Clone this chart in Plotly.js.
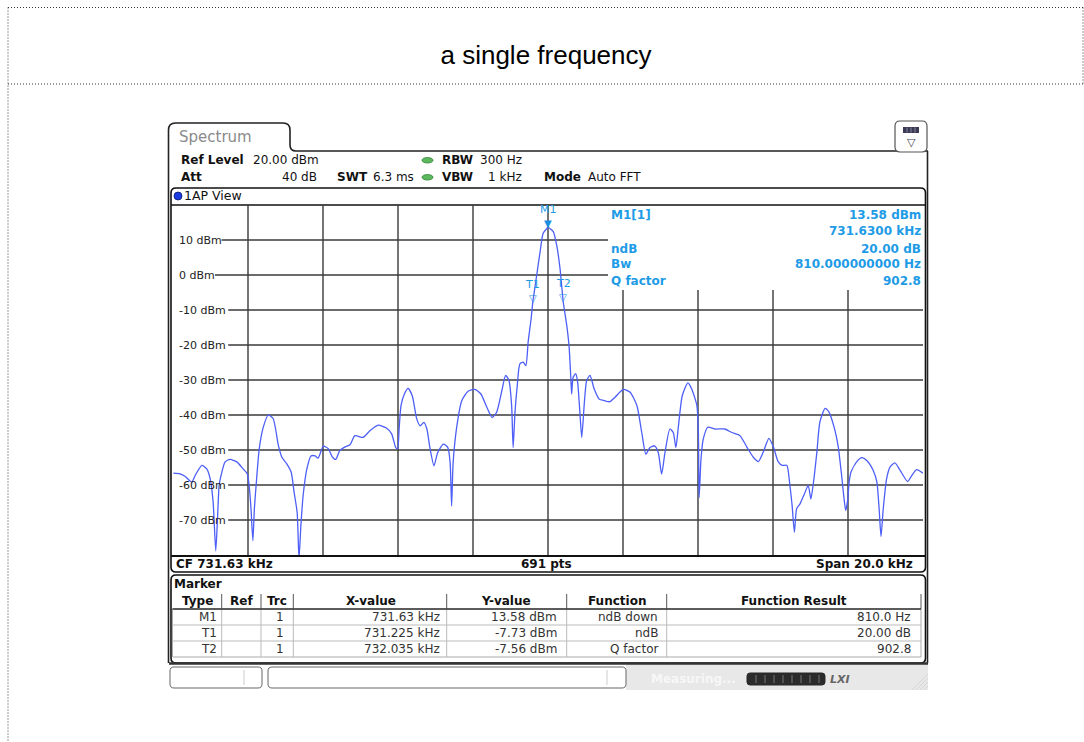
<!DOCTYPE html>
<html><head><meta charset="utf-8">
<script src="https://cdn.plot.ly/plotly-3.0.1.min.js"></script>
<style>html,body{margin:0;padding:0;background:#fff;}#chart{width:1084px;height:742px;}</style>
</head><body><div id="chart"></div>
<script>
// ---------------- data ----------------
const freqKHz = [721.64,721.82,721.95,722.13,722.22,722.40,722.53,722.62,722.70,722.77,722.82,722.86,722.91,723.02,723.15,723.33,723.50,723.61,723.66,723.71,723.76,723.80,723.86,723.93,724.04,724.17,724.30,724.44,724.53,724.66,724.78,724.86,724.94,724.99,725.04,725.10,725.20,725.31,725.42,725.50,725.64,725.77,725.88,725.97,726.08,726.22,726.35,
726.48,726.70,726.88,727.10,727.33,727.46,727.57,727.62,727.66,727.71,727.80,727.90,728.01,728.13,728.22,728.32,728.40,728.48,728.59,728.69,728.84,728.96,729.02,729.06,729.10,729.20,729.33,729.50,729.68,729.84,730.00,730.14,730.26,730.40,730.50,730.59,730.66,730.70,730.75,730.81,730.88,730.97,731.04,731.10,731.18,731.225,731.33,731.42,731.50,731.60,731.63,
731.77,731.86,731.95,732.035,732.13,732.19,732.24,732.26,732.30,732.37,732.42,732.48,732.53,732.60,732.66,732.75,732.86,732.99,733.13,733.28,733.42,733.64,733.82,734.00,734.13,734.24,734.35,734.47,734.57,734.66,734.75,734.88,734.97,735.04,735.10,735.21,735.36,735.46,735.60,735.64,735.66,735.71,735.77,735.89,736.08,736.35,736.53,736.75,
736.93,737.10,737.24,737.37,737.52,737.64,737.77,737.88,738.00,738.08,738.14,738.20,738.26,738.35,738.47,738.57,738.64,738.71,738.80,738.88,739.02,739.12,739.27,739.37,739.46,739.53,739.57,739.62,739.66,739.71,739.86,740.00,740.13,740.30,740.40,740.46,740.51,740.57,740.66,740.75,740.88,741.02,741.22,741.33,741.46,741.63];
const levelDBm = [-56.6,-56.8,-57.5,-59.2,-57.3,-54.4,-55.4,-58.2,-64.9,-78.8,-68.8,-60.1,-57.3,-53.4,-52.7,-53.4,-55.4,-56.8,-60.1,-66.8,-75.9,-66.8,-58.2,-49.6,-43.4,-40.0,-41.0,-48.7,-52.0,-53.9,-56.3,-62.1,-67.8,-81.0,-71.6,-63.0,-55.4,-51.7,-51.7,-52.3,-48.9,-49.6,-52.0,-52.7,-50.1,-49.1,-48.5,
-45.9,-46.4,-44.5,-42.9,-43.8,-45.4,-49.3,-49.6,-44.0,-37.3,-34.0,-32.4,-34.5,-41.1,-43.1,-42.1,-44.0,-49.3,-54.5,-50.7,-48.3,-49.3,-53.6,-66.0,-53.6,-43.1,-35.9,-33.2,-32.7,-34.0,-37.8,-40.7,-39.2,-33.0,-28.7,-30.2,-37.3,-49.3,-39.2,-31.6,-25.4,-24.9,-25.9,-19.2,-12.5,-7.73,0.0,6.7,11.9,13.3,13.58,
12.4,8.6,1.9,-7.56,-14.4,-20.1,-29.7,-34.0,-29.2,-28.2,-30.6,-39.2,-46.4,-36.4,-30.2,-28.7,-32.5,-35.4,-35.9,-36.2,-34.9,-32.7,-33.5,-37.3,-45.0,-51.2,-49.3,-48.8,-50.7,-56.9,-50.7,-44.0,-45.0,-49.3,-44.0,-34.5,-30.8,-32.5,-37.3,-45.0,-63.6,-52.6,-46.9,-43.5,-44.0,-44.0,-45.0,-45.9,
-49.1,-52.0,-53.3,-50.6,-46.7,-49.1,-53.4,-54.4,-54.4,-60.1,-65.9,-73.5,-66.8,-65.4,-62.5,-60.1,-64.0,-59.2,-50.6,-42.0,-38.1,-39.1,-43.9,-49.1,-57.3,-64.4,-67.3,-64.4,-59.2,-56.3,-53.4,-52.2,-53.0,-55.8,-59.2,-66.8,-74.7,-66.8,-58.2,-54.9,-53.7,-55.8,-59.0,-57.3,-55.6,-56.6];

const centerFreq = 731.63;
const spanKHz = 20;
const refLevel = 20;
const bottomLevel = -80;
const numPoints = 691;
const yTickVals = [10,0,-10,-20,-30,-40,-50,-60,-70];
const yTickText = ['10 dBm','0 dBm','-10 dBm','-20 dBm','-30 dBm','-40 dBm','-50 dBm','-60 dBm','-70 dBm'];

const markerType = ['M1','T1','T2'];
const markerRef = ['','',''];
const markerTrc = [1,1,1];
const markerX = [731.63,731.225,732.035];
const markerY = [13.58,-7.73,-7.56];
const markerFunc = ['ndB down','ndB','Q factor'];
const markerResult = ['810.0 Hz','20.00 dB','902.8'];

const infoLabels = ['M1[1]','','ndB','Bw','Q factor'];
const infoValues = ['13.58 dBm','731.6300 kHz','20.00 dB','810.000000000 Hz','902.8'];

// ---------------- helpers ----------------
const FONT = 'DejaVu Sans, Verdana, sans-serif';
const INFO = '#1e9be6';
const GRID = '#3a3a3a';
const PL=173, PR=923, PT=205, PB=555;
const X = p => (p-PL)/(PR-PL);
const Y = p => (PB-p)/(PB-PT);
const shapes=[], ann=[];
function ln(x0,y0,x1,y1,color,width,dash){shapes.push({type:'line',xref:'paper',yref:'paper',x0:X(x0),y0:Y(y0),x1:X(x1),y1:Y(y1),line:{color:color,width:width||1,dash:dash||'solid'},layer:'below'});}
function path(cmds,fill,color,width){let d='';cmds.forEach(c=>{d+=c[0];for(let i=1;i<c.length;i+=2){d+=' '+X(c[i]).toFixed(5)+','+Y(c[i+1]).toFixed(5)+' ';}});
 shapes.push({type:'path',xref:'paper',yref:'paper',path:d,fillcolor:fill||'rgba(0,0,0,0)',line:{color:color||'#000',width:width==null?1:width},layer:'below'});}
function rrect(x0,y0,x1,y1,r,fill,color,width){path([['M',x0+r,y0],['L',x1-r,y0],['Q',x1,y0,x1,y0+r],['L',x1,y1-r],['Q',x1,y1,x1-r,y1],['L',x0+r,y1],['Q',x0,y1,x0,y1-r],['L',x0,y0+r],['Q',x0,y0,x0+r,y0],['Z']],fill,color,width);}
function box(x0,y0,x1,y1,fill,color,width,type){shapes.push({type:type||'rect',xref:'paper',yref:'paper',x0:X(x0),y0:Y(y0),x1:X(x1),y1:Y(y1),fillcolor:fill,line:{color:color||fill,width:width==null?0:width},layer:'below'});}
function tx(px,py,text,o){o=o||{};ann.push({xref:'paper',yref:'paper',x:X(px),y:Y(py),text:text,showarrow:false,xanchor:o.a||'left',yanchor:'middle',borderpad:0,font:{family:o.f||FONT,size:o.s||12,color:o.c||'#111'}});}

// outer dotted frame
const DOT='1px,2px';
ln(8,7.5,1083,7.5,'#333',1,DOT);
ln(1083,7.5,1083,84,'#333',1,DOT);
ln(8,84,1083,84,'#333',1,DOT);
ln(8,7.5,8,742,'#333',1,DOT);

// spectrum tab + frame
path([['M',168.5,663],['L',168.5,130],['Q',168.5,123,175.5,123],['L',283,123],['Q',290,123,290,130],['L',290,145],['Q',290,151,296,151],['L',928,151]],null,'#222',1.6);
ln(927.5,151,927.5,663,'#222',1.6);
rrect(895,121,927,152,5,'#fff','#555',1.2);
box(903,127,919,133,'#3a3a55');
for(let k=907;k<919;k+=4) ln(k,127.5,k,132.5,'#9a9ab0',0.8);
tx(911,142,'▽',{a:'center',s:11,c:'#445'});
tx(178,137,'Spectrum',{s:15,c:'#8a8a8a'});

// header
tx(180,160,'<b>Ref Level</b>'); tx(252,160,refLevel.toFixed(2)+' dBm');
box(422,157.5,433,163,'#5cb85c','#2e7d32',0.8,'circle');
tx(441,160,'<b>RBW</b>'); tx(523,160,'300 Hz',{a:'right'});
tx(180,177,'<b>Att</b>'); tx(318,177,'40 dB',{a:'right'}); tx(336,177,'<b>SWT</b>'); tx(372,177,'6.3 ms');
box(422,174.5,433,180,'#5cb85c','#2e7d32',0.8,'circle');
tx(441,177,'<b>VBW</b>'); tx(523,177,'1 kHz',{a:'right'}); tx(543,177,'<b>Mode</b>'); tx(587,177,'Auto FFT');

// view box
rrect(171,188,925.5,572,5,null,'#111',1.6);
box(174,192,182,200,'#1a3be0','#0a1a70',0.8,'circle');
tx(183,196,'1AP View',{s:12.5});
ln(171,205,925.5,205,'#111',1.6);
ln(171,556,925.5,556,'#111',2);

// grid
for(let i=1;i<=9;i++){const px=PL+75*i; ln(px,(i>=6)?290:PT,px,PB,GRID,1.4);}
yTickVals.forEach((v,i)=>{
  const x0=178+6.6*yTickText[i].length+4;
  shapes.push({type:'line',xref:'paper',yref:'y',x0:X(x0),x1:X(v>=0?608:PR),y0:v,y1:v,line:{color:GRID,width:1.4},layer:'below'});
  ann.push({xref:'paper',yref:'y',x:X(178),y:v,text:yTickText[i],showarrow:false,xanchor:'left',yanchor:'middle',borderpad:0,font:{family:FONT,size:11,color:'#222'}});
});

// bottom row of diagram
tx(175,564,'<b>CF '+centerFreq.toFixed(2)+' kHz</b>');
tx(546,564,'<b>'+numPoints+' pts</b>',{a:'center'});
tx(914,564,'<b>Span '+spanKHz.toFixed(1)+' kHz</b>',{a:'right'});

// marker info
const infoY=[215,231,249,264,281];
infoLabels.forEach((l,i)=>{ if(l) tx(610,infoY[i],'<b>'+l+'</b>',{c:INFO}); tx(922,infoY[i],'<b>'+infoValues[i]+'</b>',{a:'right',c:INFO}); });

// marker symbols on trace
markerType.forEach((m,i)=>{
  ann.push({xref:'x',yref:'y',x:markerX[i],y:markerY[i],text:i===0?'▼':'▽',showarrow:false,xanchor:'center',yanchor:'bottom',yshift:-3,borderpad:0,font:{family:FONT,size:10,color:'#1a8fe0'}});
  ann.push({xref:'x',yref:'y',x:markerX[i],y:markerY[i],text:m,showarrow:false,xanchor:'center',yanchor:'bottom',yshift:10.5,borderpad:0,font:{family:FONT,size:11,color:INFO}});
});

// marker table
rrect(171,575,925.5,663,5,null,'#111',1.6);
tx(173,584,'<b>Marker</b>');
const colSep=[221.7,261,293.3,446.7,566.7,666.7];
const hdr=['Type','Ref','Trc','X-value','Y-value','Function','Function Result'];
const hdrC=[197,241,277,371,506,617,794];
hdr.forEach((h,i)=>tx(hdrC[i],601,'<b>'+h+'</b>',{a:'center'}));
colSep.concat([921]).forEach(x=>ln(x,594,x,609,'#555',1));
box(172.5,609,921,657,'rgba(0,0,0,0)','#aaa',1);
[625,641].forEach(y=>ln(172.5,y,921,y,'#bbb',1));
colSep.forEach(x=>ln(x,609,x,657,'#bbb',1));
ln(172.5,609,921,609,'#333',1.3);
const rowY=[617,633,649];
const rightX=[218,257,285,441,558,659,912];
markerType.forEach((m,i)=>{
  const cells=[m,markerRef[i],String(markerTrc[i]),markerX[i]+' kHz',markerY[i].toFixed(2)+' dBm',markerFunc[i],markerResult[i]];
  cells.forEach((c,j)=>{ if(c) tx(rightX[j],rowY[i],c,{a:'right',c:'#333'}); });
});

// status bar
box(626,664,928,690,'#e8e8e8');
for(let k=0;k<5;k++) ln(912+k*4,690,928,674+k*4,'#cfcfcf',0.8);
ln(169,663.5,928,663.5,'#333',2.5);
rrect(170,667,262,688,4,'#fff','#666',1); ln(244,670,244,685,'#ccc',1);
rrect(268,667,626,688,4,'#fff','#666',1); ln(607,670,607,685,'#ccc',1);
tx(650,679,'<b>Measuring...</b>',{c:'#f7f7f7'});
rrect(747,673,825,685,3,'#2b2b2b','#2b2b2b',1);
for(let k=756;k<820;k+=9) ln(k,675,k,683,'#777',1);
tx(829,679,'<b><i>LXI</i></b>',{c:'#666',s:11});

// ---------------- plot ----------------
const trace={type:'scatter',mode:'lines',x:freqKHz,y:levelDBm,line:{color:'#4d5ff7',width:1.3,shape:'spline',smoothing:0.6},hoverinfo:'skip'};
const layout={
  width:1084,height:742,
  margin:{l:PL,r:1084-PR,t:PT,b:742-PB,pad:0},
  paper_bgcolor:'#fff',plot_bgcolor:'rgba(0,0,0,0)',
  showlegend:false,
  title:{text:'a single frequency',font:{family:'Liberation Sans, Arial, sans-serif',size:26,color:'#000'},x:546/1084,xref:'container',xanchor:'center',y:1-55/742,yref:'container',yanchor:'middle'},
  xaxis:{range:[centerFreq-spanKHz/2,centerFreq+spanKHz/2],showgrid:false,zeroline:false,showline:false,showticklabels:false,ticks:'',fixedrange:true},
  yaxis:{range:[bottomLevel,refLevel],showgrid:false,zeroline:false,showline:false,showticklabels:false,ticks:'',fixedrange:true},
  shapes:shapes,annotations:ann
};
Plotly.newPlot('chart',[trace],layout,{displayModeBar:false,staticPlot:true});
</script></body></html>
